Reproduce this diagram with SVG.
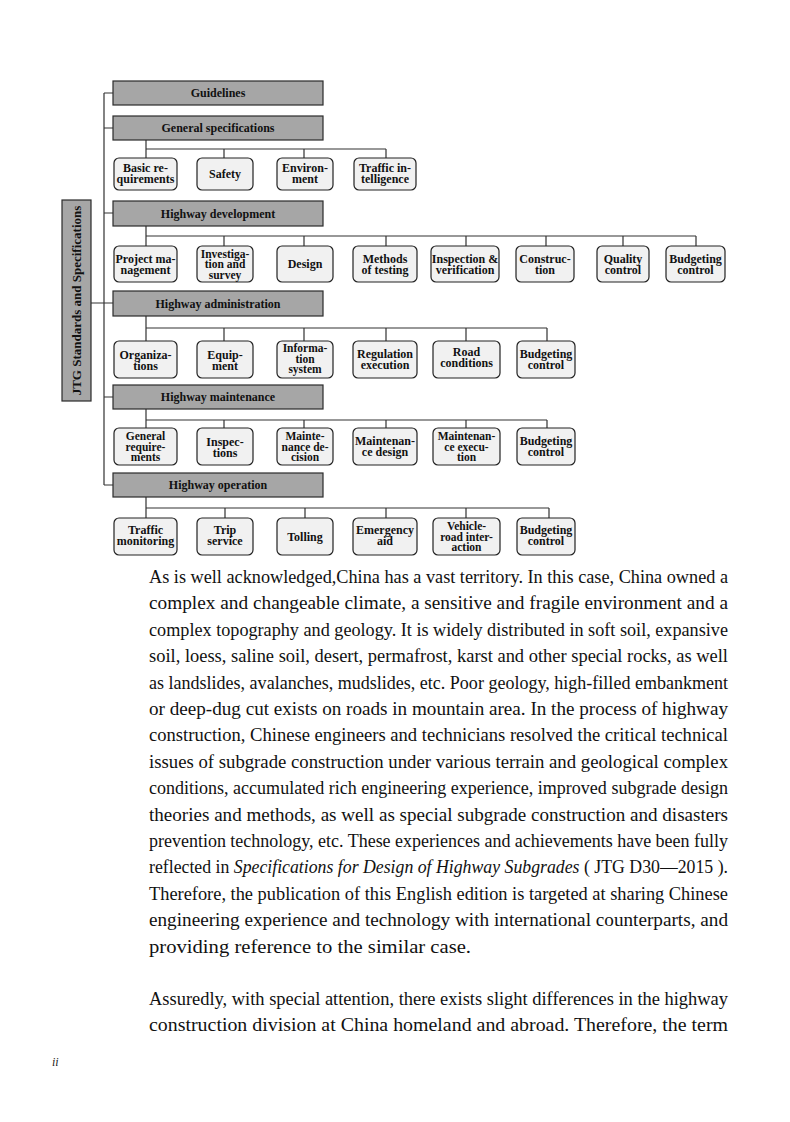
<svg xmlns="http://www.w3.org/2000/svg" width="790" height="1122" viewBox="0 0 790 1122">
<style>
.hdr{fill:#a6a6a6;stroke:#2b2b2b;stroke-width:1.2}
.box{fill:#f1f1f1;stroke:#222;stroke-width:1.2}
.ht{font-family:"Liberation Serif",serif;font-weight:bold;font-size:12px;fill:#111;text-anchor:middle}
.bt{font-family:"Liberation Serif",serif;font-weight:bold;font-size:12px;fill:#111;text-anchor:middle}
.bt3{font-family:"Liberation Serif",serif;font-weight:bold;font-size:11.5px;fill:#111;text-anchor:middle}
.ln{fill:none;stroke:#333;stroke-width:1.2}
.body{font-family:"Liberation Serif",serif;font-size:18px;fill:#111}
</style>
<rect width="790" height="1122" fill="#fff"/>

<g id="connectors" class="ln">
  <path d="M104 93V485M104 93H113M104 128H113M104 213H113M91 303H113M104 397H113M104 485H113"/>
  <path d="M146 140V149M146 149H386M146 149V158M224 149V158M304 149V158M386 149V158"/>
  <path d="M146 226V236M146 236H696M146 236V246M224 236V246M304 236V246M386 236V246M466 236V246M546 236V246M623 236V246M696 236V246"/>
  <path d="M146 316V328M146 328H547M146 328V341M224 328V341M304 328V341M386 328V341M466 328V341M547 328V341"/>
  <path d="M146 409V420M146 420H547M146 420V428M224 420V428M304 420V428M386 420V428M466 420V428M547 420V428"/>
  <path d="M146 497V508M146 508H549M146 508V518M225 508V518M305 508V518M386 508V518M466 508V518M549 508V518"/>
</g>

<g id="jtg">
  <rect x="62" y="200" width="29" height="201" class="hdr"/>
  <text class="ht" transform="translate(81 300.5) rotate(-90)" style="font-size:13px">JTG Standards and Specifications</text>
</g>

<g id="guidelines"><rect x="113" y="81" width="210" height="24" class="hdr"/><text class="ht" x="218" y="97">Guidelines</text></g>
<g id="general-specifications"><rect x="113" y="116" width="210" height="24" class="hdr"/><text class="ht" x="218" y="132">General specifications</text></g>
<g id="highway-development"><rect x="113" y="201" width="210" height="25" class="hdr"/><text class="ht" x="218" y="217.5">Highway development</text></g>
<g id="highway-administration"><rect x="113" y="291" width="210" height="25" class="hdr"/><text class="ht" x="218" y="307.5">Highway administration</text></g>
<g id="highway-maintenance"><rect x="113" y="385" width="210" height="24" class="hdr"/><text class="ht" x="218" y="401">Highway maintenance</text></g>
<g id="highway-operation"><rect x="113" y="473" width="210" height="24" class="hdr"/><text class="ht" x="218" y="489">Highway operation</text></g>

<!-- General specifications children -->
<g id="gs-basic"><rect x="114" y="158" width="63" height="32" rx="5" class="box"/><text class="bt" x="145.5" y="172">Basic re-</text><text class="bt" x="145.5" y="183">quirements</text></g>
<g id="gs-safety"><rect x="197" y="158" width="56" height="32" rx="5" class="box"/><text class="bt" x="225" y="178">Safety</text></g>
<g id="gs-environment"><rect x="277" y="158" width="56" height="32" rx="5" class="box"/><text class="bt" x="305" y="172">Environ-</text><text class="bt" x="305" y="183">ment</text></g>
<g id="gs-traffic"><rect x="354" y="158" width="62" height="32" rx="5" class="box"/><text class="bt" x="385" y="172">Traffic in-</text><text class="bt" x="385" y="183">telligence</text></g>

<!-- Highway development children -->
<g id="hd-project"><rect x="114" y="246" width="63" height="36" rx="5" class="box"/><text class="bt" x="145.5" y="263">Project ma-</text><text class="bt" x="145.5" y="274">nagement</text></g>
<g id="hd-investigation"><rect x="197" y="246" width="56" height="36" rx="5" class="box"/><text class="bt3" x="225" y="257.5">Investiga-</text><text class="bt3" x="225" y="268">tion and</text><text class="bt3" x="225" y="278.5">survey</text></g>
<g id="hd-design"><rect x="277" y="246" width="56" height="36" rx="5" class="box"/><text class="bt" x="305" y="268">Design</text></g>
<g id="hd-methods"><rect x="353" y="246" width="64" height="36" rx="5" class="box"/><text class="bt" x="385" y="263">Methods</text><text class="bt" x="385" y="274">of testing</text></g>
<g id="hd-inspection"><rect x="431" y="246" width="68" height="36" rx="5" class="box"/><text class="bt" x="465" y="263">Inspection &amp;</text><text class="bt" x="465" y="274">verification</text></g>
<g id="hd-construction"><rect x="516" y="246" width="58" height="36" rx="5" class="box"/><text class="bt" x="545" y="263">Construc-</text><text class="bt" x="545" y="274">tion</text></g>
<g id="hd-quality"><rect x="597" y="246" width="52" height="36" rx="5" class="box"/><text class="bt" x="623" y="263">Quality</text><text class="bt" x="623" y="274">control</text></g>
<g id="hd-budgeting"><rect x="666" y="246" width="59" height="36" rx="5" class="box"/><text class="bt" x="695.5" y="263">Budgeting</text><text class="bt" x="695.5" y="274">control</text></g>

<!-- Highway administration children -->
<g id="ha-organizations"><rect x="114" y="341" width="63" height="37" rx="5" class="box"/><text class="bt" x="145.5" y="359">Organiza-</text><text class="bt" x="145.5" y="370">tions</text></g>
<g id="ha-equipment"><rect x="197" y="341" width="56" height="37" rx="5" class="box"/><text class="bt" x="225" y="359">Equip-</text><text class="bt" x="225" y="370">ment</text></g>
<g id="ha-information"><rect x="277" y="341" width="56" height="37" rx="5" class="box"/><text class="bt3" x="305" y="352">Informa-</text><text class="bt3" x="305" y="362.5">tion</text><text class="bt3" x="305" y="373">system</text></g>
<g id="ha-regulation"><rect x="353" y="341" width="64" height="37" rx="5" class="box"/><text class="bt" x="385" y="358">Regulation</text><text class="bt" x="385" y="369">execution</text></g>
<g id="ha-road"><rect x="433" y="341" width="67" height="37" rx="5" class="box"/><text class="bt" x="466.5" y="356">Road</text><text class="bt" x="466.5" y="367">conditions</text></g>
<g id="ha-budgeting"><rect x="517" y="341" width="58" height="37" rx="5" class="box"/><text class="bt" x="546" y="358">Budgeting</text><text class="bt" x="546" y="369">control</text></g>

<!-- Highway maintenance children -->
<g id="hm-general"><rect x="114" y="428" width="63" height="37" rx="5" class="box"/><text class="bt3" x="145.5" y="440">General</text><text class="bt3" x="145.5" y="450.5">require-</text><text class="bt3" x="145.5" y="461">ments</text></g>
<g id="hm-inspections"><rect x="197" y="428" width="56" height="37" rx="5" class="box"/><text class="bt" x="225" y="446">Inspec-</text><text class="bt" x="225" y="457">tions</text></g>
<g id="hm-decision"><rect x="277" y="428" width="56" height="37" rx="5" class="box"/><text class="bt3" x="305" y="440">Mainte-</text><text class="bt3" x="305" y="450.5">nance de-</text><text class="bt3" x="305" y="461">cision</text></g>
<g id="hm-design"><rect x="353" y="428" width="64" height="37" rx="5" class="box"/><text class="bt" x="385" y="445">Maintenan-</text><text class="bt" x="385" y="456">ce design</text></g>
<g id="hm-execution"><rect x="433" y="428" width="67" height="37" rx="5" class="box"/><text class="bt3" x="466.5" y="440">Maintenan-</text><text class="bt3" x="466.5" y="450.5">ce execu-</text><text class="bt3" x="466.5" y="461">tion</text></g>
<g id="hm-budgeting"><rect x="517" y="428" width="58" height="37" rx="5" class="box"/><text class="bt" x="546" y="445">Budgeting</text><text class="bt" x="546" y="456">control</text></g>

<!-- Highway operation children -->
<g id="ho-traffic"><rect x="114" y="518" width="63" height="37" rx="5" class="box"/><text class="bt" x="145.5" y="534">Traffic</text><text class="bt" x="145.5" y="545">monitoring</text></g>
<g id="ho-trip"><rect x="197" y="518" width="56" height="37" rx="5" class="box"/><text class="bt" x="225" y="534">Trip</text><text class="bt" x="225" y="545">service</text></g>
<g id="ho-tolling"><rect x="277" y="518" width="56" height="37" rx="5" class="box"/><text class="bt" x="305" y="541">Tolling</text></g>
<g id="ho-emergency"><rect x="353" y="518" width="64" height="37" rx="5" class="box"/><text class="bt" x="385" y="534">Emergency</text><text class="bt" x="385" y="545">aid</text></g>
<g id="ho-vehicle"><rect x="433" y="518" width="67" height="37" rx="5" class="box"/><text class="bt3" x="466.5" y="530">Vehicle-</text><text class="bt3" x="466.5" y="540.5">road inter-</text><text class="bt3" x="466.5" y="551">action</text></g>
<g id="ho-budgeting"><rect x="517" y="518" width="58" height="37" rx="5" class="box"/><text class="bt" x="546" y="534">Budgeting</text><text class="bt" x="546" y="545">control</text></g>

<g id="body-text" class="body">
<text x="149" y="583" textLength="579" lengthAdjust="spacingAndGlyphs">As is well acknowledged,China has a vast territory.  In this case, China owned a</text>
<text x="149" y="609.4" textLength="579" lengthAdjust="spacingAndGlyphs">complex and changeable climate, a sensitive and fragile environment and a</text>
<text x="149" y="635.8" textLength="579" lengthAdjust="spacingAndGlyphs">complex topography and geology.  It is widely distributed in soft soil, expansive</text>
<text x="149" y="662.2" textLength="579" lengthAdjust="spacingAndGlyphs">soil, loess, saline soil, desert, permafrost, karst and other special rocks, as well</text>
<text x="149" y="688.6" textLength="579" lengthAdjust="spacingAndGlyphs">as landslides, avalanches, mudslides, etc.  Poor geology, high-filled embankment</text>
<text x="149" y="715" textLength="579" lengthAdjust="spacingAndGlyphs">or deep-dug cut exists on roads in mountain area.  In the process of highway</text>
<text x="149" y="741.4" textLength="579" lengthAdjust="spacingAndGlyphs">construction, Chinese engineers and technicians resolved the critical technical</text>
<text x="149" y="767.8" textLength="579" lengthAdjust="spacingAndGlyphs">issues of subgrade construction under various terrain and geological complex</text>
<text x="149" y="794.2" textLength="579" lengthAdjust="spacingAndGlyphs">conditions, accumulated rich engineering experience, improved subgrade design</text>
<text x="149" y="820.6" textLength="579" lengthAdjust="spacingAndGlyphs">theories and methods, as well as special subgrade construction and disasters</text>
<text x="149" y="847" textLength="579" lengthAdjust="spacingAndGlyphs">prevention technology, etc.  These experiences and achievements have been fully</text>
<text x="149" y="873.4" textLength="579" lengthAdjust="spacingAndGlyphs">reflected in <tspan font-style="italic">Specifications for Design of Highway Subgrades</tspan> ( JTG D30—2015 ).</text>
<text x="149" y="899.8" textLength="579" lengthAdjust="spacingAndGlyphs">Therefore, the publication of this English edition is targeted at sharing Chinese</text>
<text x="149" y="926.2" textLength="579" lengthAdjust="spacingAndGlyphs">engineering experience and technology with international counterparts, and</text>
<text x="149" y="952.6" textLength="322" lengthAdjust="spacingAndGlyphs">providing reference to the similar case.</text>
<text x="149" y="1005" textLength="579" lengthAdjust="spacingAndGlyphs">Assuredly, with special attention, there exists slight differences in the highway</text>
<text x="149" y="1031.4" textLength="579" lengthAdjust="spacingAndGlyphs">construction division at China homeland and abroad.  Therefore, the term</text>
</g>
<text x="52" y="1066" style="font-family:'Liberation Serif',serif;font-style:italic;font-size:12px;fill:#222">ii</text>
</svg>
